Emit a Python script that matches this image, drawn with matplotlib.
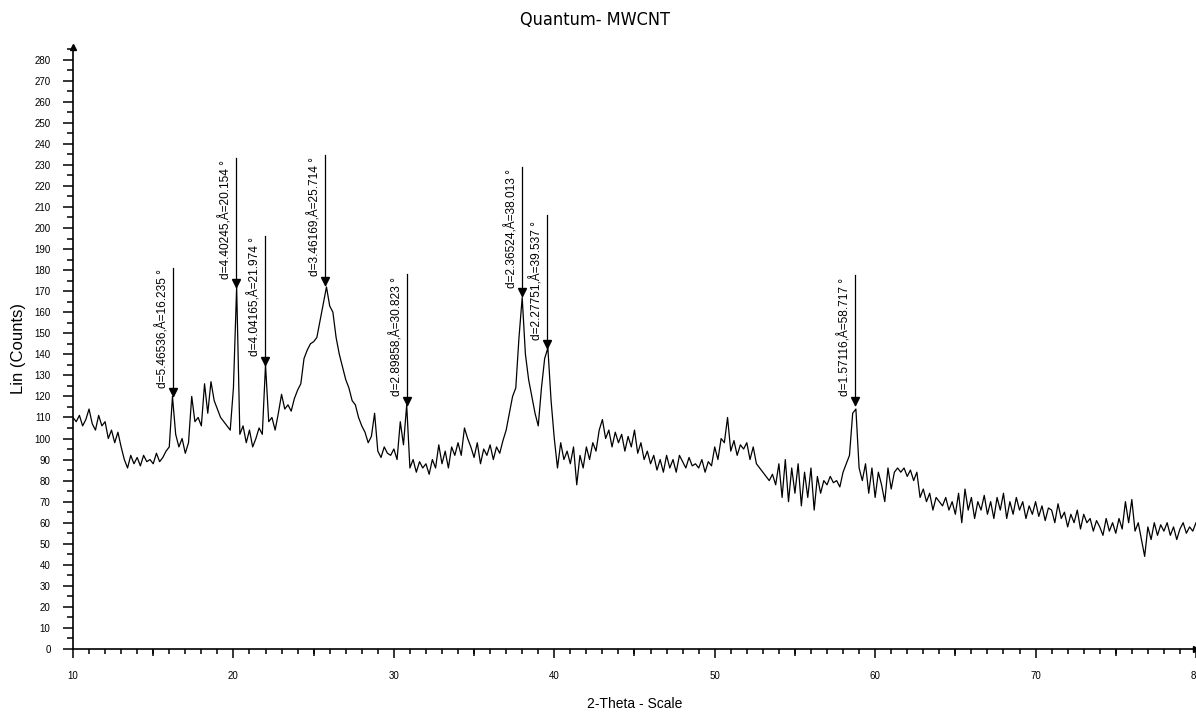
import numpy as np
import matplotlib
matplotlib.use("Agg")
import matplotlib.pyplot as plt
from matplotlib import font_manager
from matplotlib.ticker import MultipleLocator

# XRD scan at 0.2 deg steps (10.0 .. 80.0)
two_theta = np.round(np.arange(10.0, 80.01, 0.2), 1)
counts = [
    110, 108, 111, 106, 109,   # 10
    114, 107, 104, 111, 106,   # 11
    108, 100, 104, 98, 103,    # 12
    96, 90, 86, 92, 88,        # 13
    91, 87, 92, 89, 90,        # 14
    88, 93, 89, 91, 94,        # 15
    96, 120, 102, 96, 100,     # 16
    93, 98, 120, 108, 110,     # 17
    106, 126, 112, 127, 118,   # 18
    114, 110, 108, 106, 104,   # 19
    124, 172, 102, 106, 98,    # 20
    104, 96, 100, 105, 102,    # 21
    135, 108, 110, 104, 112,   # 22
    121, 114, 116, 113, 119,   # 23
    123, 126, 138, 142, 145,   # 24
    146, 148, 156, 164, 172,   # 25
    163, 160, 148, 140, 134,   # 26
    128, 124, 118, 116, 110,   # 27
    106, 103, 98, 101, 112,    # 28
    94, 91, 96, 93, 92,        # 29
    95, 90, 108, 97, 116,      # 30
    86, 90, 84, 89, 86,        # 31
    88, 83, 90, 86, 97,        # 32
    88, 94, 86, 96, 92,        # 33
    98, 92, 105, 100, 96,      # 34
    91, 98, 88, 95, 92,        # 35
    97, 90, 96, 93, 99,        # 36
    104, 112, 120, 124, 148,   # 37
    167, 140, 128, 120, 112,   # 38
    106, 124, 138, 143, 118,   # 39
    100, 86, 98, 90, 94,       # 40
    88, 96, 78, 92, 86,        # 41
    96, 90, 98, 94, 104,       # 42
    109, 100, 104, 96, 103,    # 43
    98, 102, 94, 101, 96,      # 44
    104, 93, 98, 90, 94,       # 45
    88, 92, 85, 90, 84,        # 46
    92, 86, 90, 84, 92,        # 47
    89, 86, 91, 87, 88,        # 48
    86, 90, 84, 89, 87,        # 49
    96, 90, 100, 98, 110,      # 50
    94, 99, 92, 97, 95,        # 51
    98, 90, 96, 88, 86,        # 52
    84, 82, 80, 83, 78,        # 53
    88, 72, 90, 70, 86,        # 54
    74, 88, 68, 84, 72,        # 55
    86, 66, 82, 74, 80,        # 56
    78, 82, 79, 80, 77,        # 57
    84, 88, 92, 112, 114,      # 58
    86, 80, 88, 74, 86,        # 59
    72, 84, 78, 70, 86,        # 60
    76, 84, 86, 84, 86,        # 61
    82, 85, 80, 84, 72,        # 62
    76, 70, 74, 66, 72,        # 63
    70, 68, 72, 66, 70,        # 64
    64, 74, 60, 76, 66,        # 65
    72, 62, 70, 66, 73,        # 66
    64, 70, 62, 72, 66,        # 67
    74, 62, 70, 64, 72,        # 68
    66, 70, 62, 68, 64,        # 69
    70, 63, 68, 61, 67,        # 70
    66, 60, 69, 62, 65,        # 71
    58, 64, 60, 66, 57,        # 72
    64, 60, 62, 56, 61,        # 73
    58, 54, 62, 56, 60,        # 74
    55, 62, 57, 70, 60,        # 75
    71, 56, 60, 52, 44,        # 76
    58, 52, 60, 54, 59,        # 77
    56, 60, 54, 58, 52,        # 78
    57, 60, 55, 58, 56,        # 79
    60,                        # 80
]

# Peak labels: angle, d-spacing, arrow tip (counts), top of the line (counts)
peak_angle = [16.235, 20.154, 21.974, 25.714, 30.823, 38.013, 39.537, 58.717]
peak_d = [5.46536, 4.40245, 4.04165, 3.46169, 2.89858, 2.36524, 2.27751, 1.57116]
peak_tip = [120, 172, 135, 173, 116, 167.5, 143, 116]
peak_top = [181, 233.5, 196, 234.5, 178, 229, 206, 177.5]

plt.rcParams["font.family"] = ["Liberation Sans", "DejaVu Sans"]

# the title in the reference is a narrow face; use a condensed one if there is one
fonts = font_manager.fontManager.ttflist
title_font = dict(family=["Liberation Sans", "DejaVu Sans"], fontsize=12)
if any(f.name == "Liberation Sans Narrow" for f in fonts):
    title_font = dict(family=["Liberation Sans Narrow", "DejaVu Sans"], fontsize=15)
elif any(f.name == "DejaVu Sans" and f.stretch == "condensed" for f in fonts):
    title_font = dict(family=["DejaVu Sans"], fontstretch="condensed", fontsize=13)

fig = plt.figure(figsize=(11.96, 7.14), dpi=100)
ax = fig.add_axes([73 / 1196, 65 / 714, 1 - 73 / 1196, 602 / 714])

ax.plot(two_theta, counts, color="black", lw=0.9)

# peak markers with vertical leader lines and rotated labels
for a, d, tip, top in zip(peak_angle, peak_d, peak_tip, peak_top):
    ax.plot([a, a], [tip, top], color="black", lw=0.9)
    ax.plot(a, tip + 2, marker="v", color="black", ms=6)
    ax.annotate(f"d={d:.5f},Å={a:.3f} °", xy=(a, tip + 4), xytext=(-2.5, 0),
                textcoords="offset points", rotation=90, ha="right",
                va="bottom", fontsize=8.6)

ax.set_xlim(10, 80)
ax.set_ylim(0, 286)

for side in ["top", "right"]:
    ax.spines[side].set_visible(False)
for side in ["left", "bottom"]:
    ax.spines[side].set_linewidth(1.2)

ax.xaxis.set_major_locator(MultipleLocator(10))
ax.xaxis.set_minor_locator(MultipleLocator(1))
ax.yaxis.set_minor_locator(MultipleLocator(5))
ax.set_yticks(np.arange(0, 281, 10))
ax.tick_params(axis="x", which="major", length=6.5, width=1.1, pad=9, labelsize=7)
ax.tick_params(axis="x", which="minor", length=3.5, width=1.1)
ax.tick_params(axis="y", which="major", length=7.2, width=1.1, pad=9, labelsize=7)
ax.tick_params(axis="y", which="minor", length=4.3, width=1.1)

# medium ticks at the 5 deg marks
mid_ticks = [15, 25, 35, 45, 55, 65, 75]
ax.plot(mid_ticks, [0] * len(mid_ticks), ls="", marker=3, ms=5, mew=1.1,
        color="black", clip_on=False)

# arrow heads on the axes
ax.plot(0, 1, marker="^", ms=5, color="black", transform=ax.transAxes, clip_on=False)
ax.plot(1, 0, marker=">", ms=5, color="black", transform=ax.transAxes, clip_on=False)

ax.set_ylabel("Lin (Counts)", fontsize=12, labelpad=6)
ax.set_xlabel("2-Theta - Scale", fontsize=10, labelpad=12)
fig.text(0.4975, 0.972, "Quantum- MWCNT", ha="center", va="center", **title_font)

fig.savefig("out.png", dpi=100)
